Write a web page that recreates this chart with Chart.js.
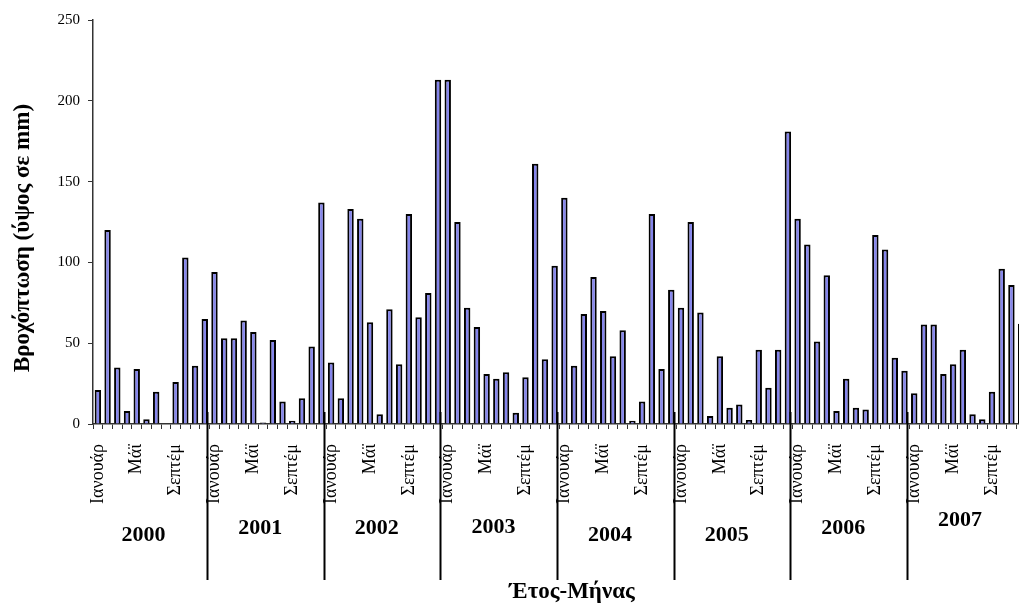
<!DOCTYPE html>
<html>
<head>
<meta charset="utf-8">
<script src="https://cdn.jsdelivr.net/npm/chart.js@4"></script>
<style>
  html, body { margin: 0; padding: 0; background: #fff; overflow: hidden; }
  #wrap { position: absolute; left: 0; top: 0; width: 1019px; height: 608px; overflow: hidden; }
</style>
</head>
<body>
<div id="wrap"><canvas id="myChart" width="1040" height="608"></canvas></div>
<script>
//data
const years = ["2000", "2001", "2002", "2003", "2004", "2005", "2006", "2007"];
const months = ["Ιανουάρ", "Φεβρουάρ", "Μάρτ", "Απρίλ", "Μάϊ", "Ιούν", "Ιούλ", "Αύγουστ", "Σεπτέμ", "Οκτώβ", "Νοέμβ", "Δεκέμβ"];
const shownMonths = ["Ιανουάρ", "Μάϊ", "Σεπτέμ"];
const yTicks = [0, 50, 100, 150, 200, 250];

const rain2000 = [21, 120, 35, 8, 34, 3, 20, 0, 26, 103, 36, 65];
const rain2001 = [94, 53, 53, 64, 57, 1, 52, 14, 2, 16, 48, 137];
const rain2002 = [38, 16, 133, 127, 63, 6, 71, 37, 130, 66, 81, 213];
const rain2003 = [213, 125, 72, 60, 31, 28, 32, 7, 29, 161, 40, 98];
const rain2004 = [140, 36, 68, 91, 70, 42, 58, 2, 14, 130, 34, 83];
const rain2005 = [72, 125, 69, 5, 42, 10, 12, 2.5, 46, 22.5, 46, 181];
const rain2006 = [127, 111, 51, 92, 8, 28, 10, 9, 117, 108, 41, 33];
const rain2007 = [19, 61.5, 61.5, 31, 37, 46, 6, 3, 20, 96, 86, 62];

const rainByYear = [rain2000, rain2001, rain2002, rain2003, rain2004, rain2005, rain2006, rain2007];

const labels = [];
const values = [];
years.forEach((y, k) => {
  months.forEach((m, i) => {
    labels.push(m + " " + y);
    values.push(rainByYear[k][i]);
  });
});

const serif = "'Liberation Serif', 'Times New Roman', serif";

// year labels, separators, axis titles
const extras = {
  id: "extras",
  afterDraw(chart) {
    const ctx = chart.ctx;
    const x = chart.scales.x;
    const area = chart.chartArea;
    const cw = x.getPixelForValue(1) - x.getPixelForValue(0);
    const yearDy = [111, 104, 104, 103, 111, 111, 104, 96];
    ctx.save();
    ctx.strokeStyle = "#000";
    ctx.lineWidth = 2;
    for (let k = 0; k < years.length - 1; k++) {
      const sx = Math.round(x.getPixelForValue(12 * k + 11) + 0.25 * cw) + 0.5;
      ctx.beginPath();
      ctx.moveTo(sx, area.bottom - 12);
      ctx.lineTo(sx, area.bottom + 156);
      ctx.stroke();
    }
    ctx.fillStyle = "#000";
    ctx.textAlign = "center";
    ctx.textBaseline = "middle";
    ctx.font = "bold 22px " + serif;
    years.forEach((y, k) => {
      const cx = x.getPixelForValue(12 * k) + 4.7 * cw;
      ctx.fillText(y, cx, area.bottom + yearDy[k]);
    });
    ctx.font = "bold 23px " + serif;
    ctx.fillText("Έτος-Μήνας", 572, 592);
    ctx.translate(23, 238);
    ctx.rotate(-Math.PI / 2);
    ctx.fillText("Βροχόπτωση (ύψος σε mm)", 0, 0);
    ctx.restore();
  },
};

//config
const config = {
  type: "bar",
  data: {
    labels: labels,
    datasets: [
      {
        label: "Βροχόπτωση",
        data: values,
        backgroundColor: "#8585EC",
        borderColor: "#000",
        borderWidth: 2,
        barPercentage: 0.66,
        categoryPercentage: 1,
      },
    ],
  },
  options: {
    responsive: false,
    animation: false,
    layout: { padding: { top: 20, right: 14, left: 0, bottom: 0 } },
    plugins: {
      legend: { display: false },
      tooltip: { enabled: false },
    },
    scales: {
      x: {
        offset: true,
        afterFit: (s) => {
          s.height = 184;
          s.paddingLeft = 0;
          s.paddingRight = 0;
        },
        border: { color: "#333", width: 1.5 },
        grid: { drawOnChartArea: false, tickLength: 5, color: "#333", offset: true },
        ticks: {
          autoSkip: false,
          maxRotation: 90,
          minRotation: 90,
          padding: 15,
          color: "#000",
          font: { family: serif, size: 18 },
          callback: (v, i) => (i % 4 === 0 ? shownMonths[(i % 12) / 4] : ""),
        },
      },
      y: {
        min: 0,
        max: 250,
        afterFit: (s) => {
          s.width = 93;
          s.paddingTop = 0;
          s.paddingBottom = 0;
        },
        afterBuildTicks: (s) => { s.ticks = yTicks.map((v) => ({ value: v })); },
        border: { color: "#333", width: 1.5 },
        grid: { drawOnChartArea: false, tickLength: 5, color: "#333" },
        ticks: {
          padding: 8,
          color: "#000",
          font: { family: serif, size: 15 },
        },
      },
    },
  },
  plugins: [extras],
};

const myChart = new Chart(document.getElementById("myChart"), config);
</script>
</body>
</html>
